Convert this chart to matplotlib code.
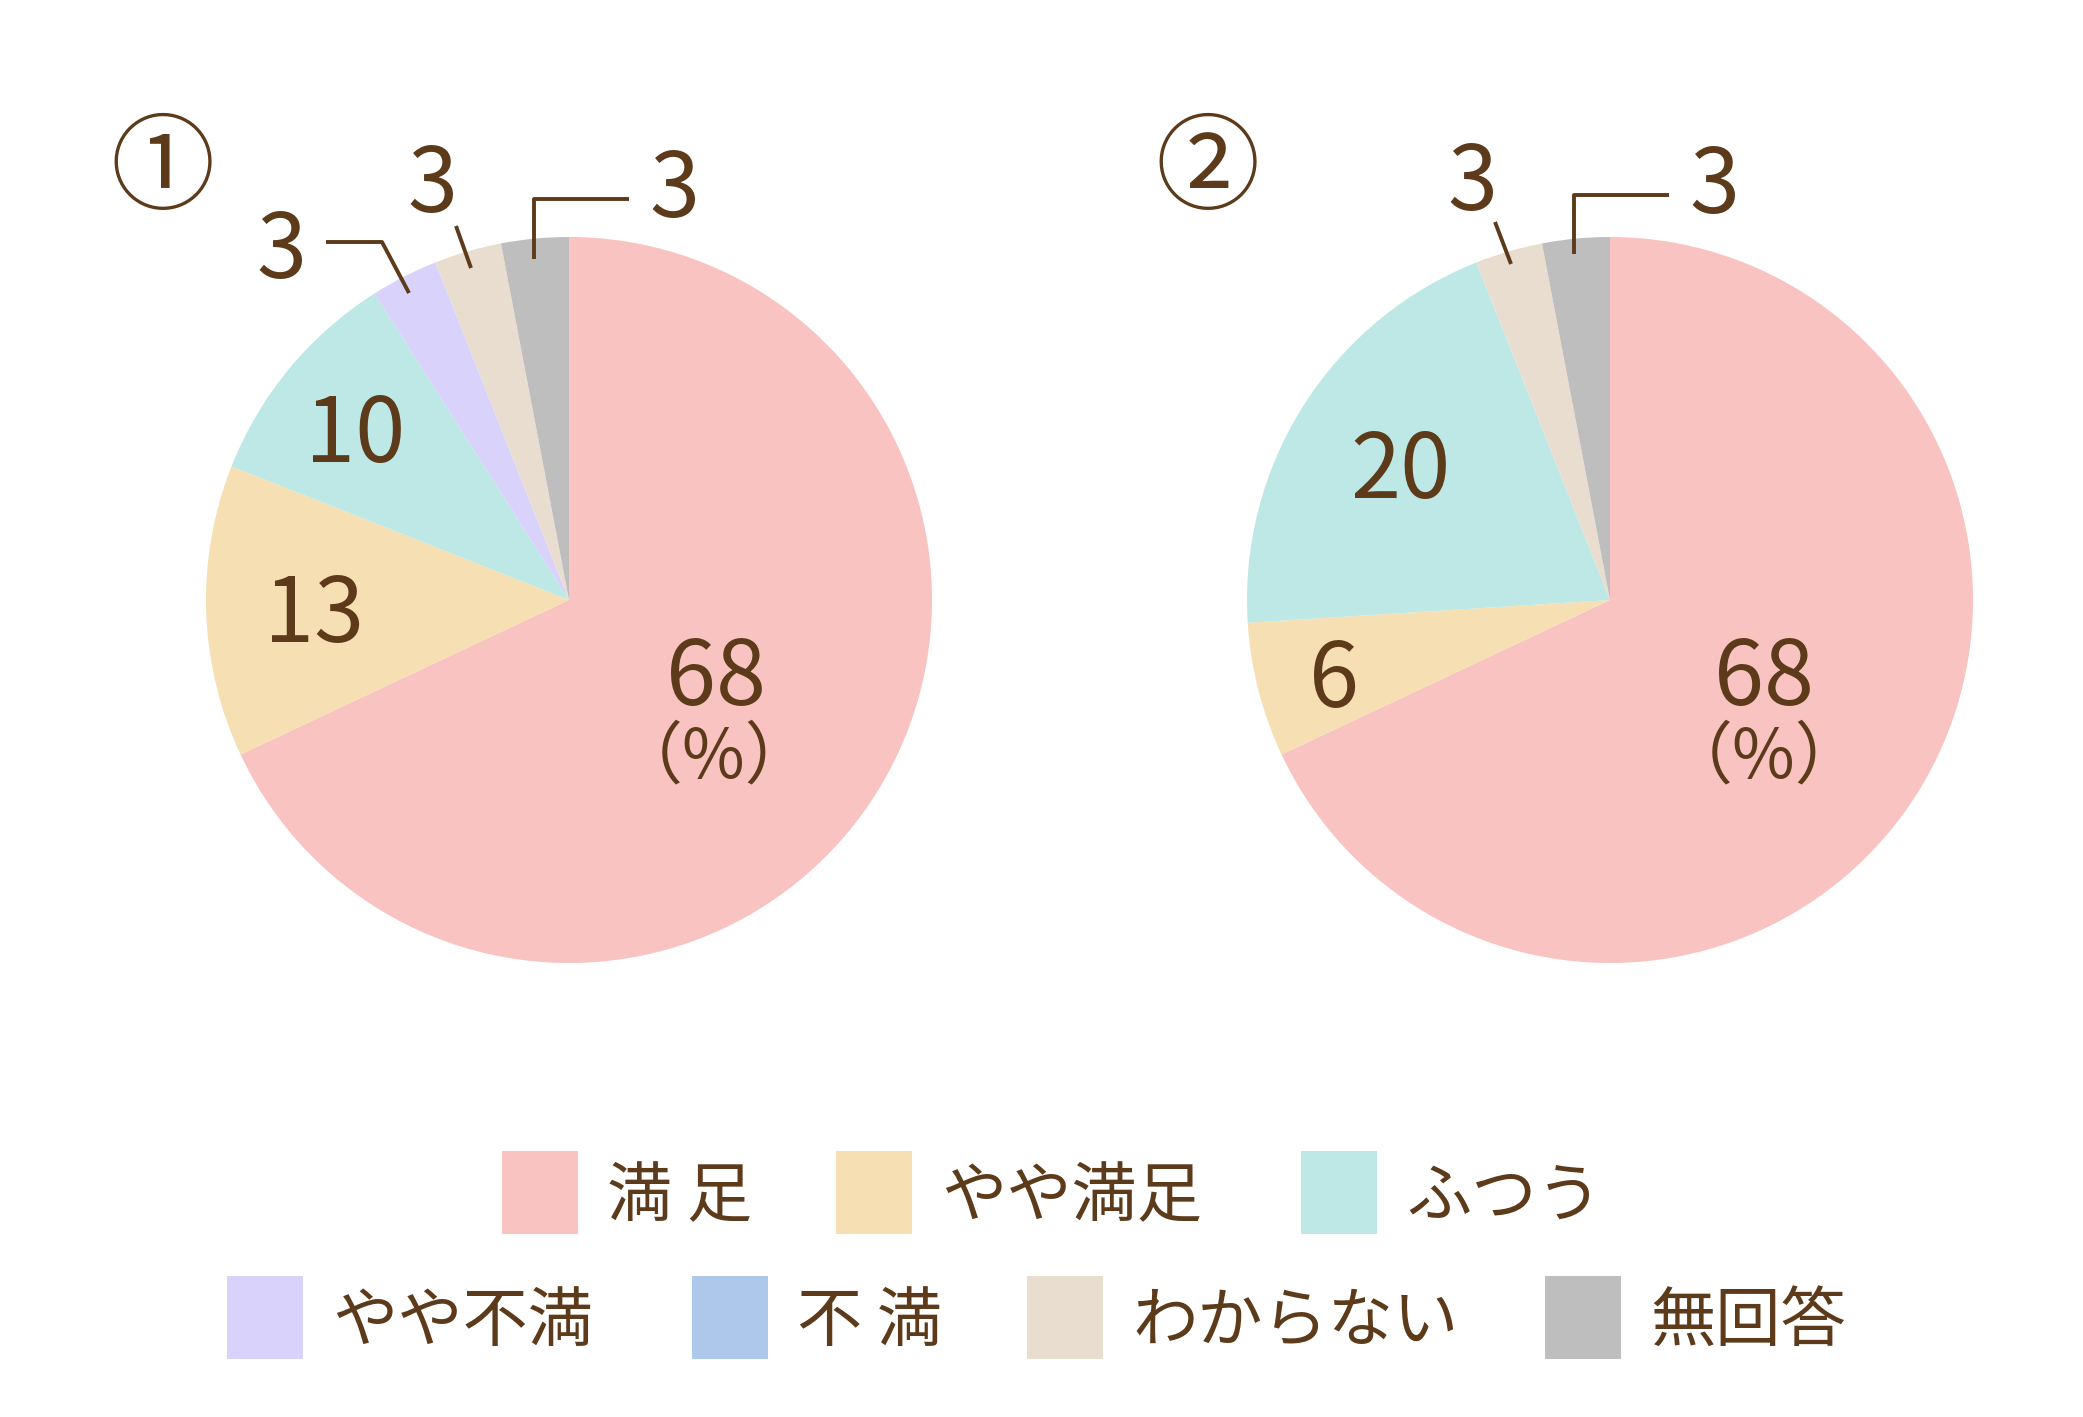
import matplotlib
matplotlib.use("Agg")
import matplotlib.pyplot as plt
from matplotlib.patches import Rectangle

plt.rcParams['font.family'] = ['Noto Sans CJK JP', 'DejaVu Sans']

categories = ['満足', 'やや満足', 'ふつう', 'やや不満', '不満', 'わからない', '無回答']
colors = ['#F8C3C0', '#F6DFB2', '#BEE8E5', '#D9D2FB', '#AEC8EC', '#E9DDD0', '#BEBEBE']
values1 = [68, 13, 10, 3, 0, 3, 3]
values2 = [68, 6, 20, 0, 0, 3, 3]
titles = ['①', '②']
TXT = '#5C3A1A'

W, H = 2083, 1417
fig = plt.figure(figsize=(W / 100, H / 100), dpi=100)
fig.patch.set_facecolor('white')

# overlay axes in pixel coordinates
ov = fig.add_axes([0, 0, 1, 1])
ov.set_xlim(0, W)
ov.set_ylim(H, 0)
ov.axis('off')
ov.set_zorder(3)
ov.patch.set_alpha(0)

R = 363
centers = [(569, 600), (1610, 600)]
for (cx, cy), vals in zip(centers, [values1, values2]):
    ax = fig.add_axes([(cx - R) / W, 1 - (cy + R) / H, 2 * R / W, 2 * R / H])
    ax.pie(vals, colors=colors, startangle=90, counterclock=False, radius=1,
           wedgeprops=dict(linewidth=0))
    ax.set_xlim(-1, 1)
    ax.set_ylim(-1, 1)
    ax.set_aspect('equal')
    ax.axis('off')

NUM = 65
def lab(x, y, s, size=NUM):
    ov.text(x, y, s, ha='center', va='baseline', fontsize=size, color=TXT)

# pie 1 labels
lab(716, 705, str(values1[0]))
lab(314, 642, str(values1[1]))
lab(355, 462, str(values1[2]))
lab(281, 278, str(values1[3]))
lab(432, 212, str(values1[5]))
lab(674, 217, str(values1[6]))
# pie 2 labels
lab(1764, 705, str(values2[0]))
lab(1334, 707, str(values2[1]))
lab(1400, 498, str(values2[2]))
lab(1472, 210, str(values2[5]))
lab(1714, 213, str(values2[6]))

for x in (714, 1764):
    ov.text(x, 758, '（%）', ha='center', va='center', fontsize=49, color=TXT)

for (x, y), t in zip([(163, 171), (1208, 171)], titles):
    ov.text(x, y, t, ha='center', va='center', fontsize=75, color=TXT)

lw = 2.8
ov.plot([326, 382, 409], [242, 242, 293], color=TXT, lw=lw, solid_capstyle='butt')
ov.plot([456, 471], [226, 268], color=TXT, lw=lw, solid_capstyle='butt')
ov.plot([629, 534, 534], [199, 199, 259], color=TXT, lw=lw, solid_capstyle='butt')
ov.plot([1495, 1511], [222, 264], color=TXT, lw=lw, solid_capstyle='butt')
ov.plot([1669, 1574, 1574], [195, 195, 254], color=TXT, lw=lw, solid_capstyle='butt')

# legend
leg_x = [502, 836, 1301, 227, 692, 1027, 1545]
leg_y = [1192, 1192, 1192, 1317, 1317, 1317, 1317]
pw, ph = 76, 83
for cat, col, x, y in zip(categories, colors, leg_x, leg_y):
    ov.add_patch(Rectangle((x, y - ph / 2), pw, ph, facecolor=col, edgecolor='none'))
    label = ' '.join(cat) if len(cat) == 2 else cat
    ov.text(x + pw + 29, y + 6, label, ha='left', va='center', fontsize=47, color=TXT)

fig.savefig('out.png', dpi=100, facecolor='white')
